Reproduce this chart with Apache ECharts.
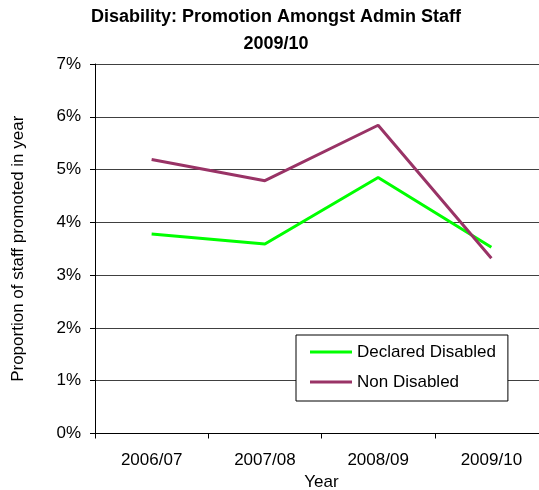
<!DOCTYPE html>
<html>
<head>
<meta charset="utf-8">
<script src="https://cdn.jsdelivr.net/npm/echarts@6/dist/echarts.min.js"></script>
<style>
  html, body { margin: 0; padding: 0; background: #fff; }
  #chart { width: 539px; height: 490px; }
</style>
</head>
<body>
<div id="chart"></div>
<script>
// Academic years on the category axis
const years = ['2006/07', '2007/08', '2008/09', '2009/10'];

// Share of admin staff promoted in each year (percent)
const declaredDisabled = [3.78, 3.59, 4.85, 3.53];
const nonDisabled = [5.19, 4.79, 5.84, 3.32];

const seriesNames = ['Declared Disabled', 'Non Disabled'];
const seriesColors = ['#00ff00', '#993366'];

const font = '"Liberation Sans", Arial, sans-serif';

const chart = echarts.init(document.getElementById('chart'), null, { renderer: 'canvas' });

chart.setOption({
  animation: false,
  backgroundColor: '#ffffff',
  title: {
    text: 'Disability: Promotion Amongst Admin Staff\n2009/10',
    left: 276,
    textAlign: 'center',
    top: 4,
    padding: 0,
    textStyle: {
      fontFamily: font,
      fontSize: 18,
      fontWeight: 'bold',
      color: '#000',
      lineHeight: 27
    }
  },
  grid: {
    left: 95,
    top: 64,
    width: 453,
    height: 369.5,
    containLabel: false,
    outerBoundsMode: 'none'
  },
  legend: {
    orient: 'vertical',
    left: 296,
    top: 335,
    padding: [8, 12, 10, 14],
    itemGap: 12,
    itemWidth: 42,
    itemHeight: 3,
    icon: 'rect',
    backgroundColor: '#ffffff',
    borderColor: '#000000',
    borderWidth: 1,
    borderRadius: 0,
    textStyle: {
      fontFamily: font,
      fontSize: 17,
      color: '#000',
      lineHeight: 18,
      padding: [0, 0, 0, 0]
    },
    data: seriesNames
  },
  xAxis: {
    type: 'category',
    data: years,
    boundaryGap: true,
    name: 'Year',
    nameLocation: 'middle',
    nameGap: 39,
    nameTextStyle: { fontFamily: font, fontSize: 17, color: '#000' },
    axisLine: { lineStyle: { color: '#000', width: 1 } },
    axisTick: { show: true, length: 5, inside: false, lineStyle: { color: '#000' } },
    axisLabel: { fontFamily: font, fontSize: 17, color: '#000', margin: 18 },
    splitLine: { show: false }
  },
  yAxis: {
    type: 'value',
    min: 0,
    max: 7,
    interval: 1,
    name: 'Proportion of staff promoted in year',
    nameLocation: 'middle',
    nameGap: 68,
    nameTextStyle: { fontFamily: font, fontSize: 17, color: '#000' },
    axisLine: { show: true, lineStyle: { color: '#000', width: 1 } },
    axisTick: { show: true, length: 5, inside: false, lineStyle: { color: '#000' } },
    axisLabel: {
      fontFamily: font,
      fontSize: 17,
      color: '#000',
      margin: 14,
      formatter: v => v + '%'
    },
    splitLine: { show: true, lineStyle: { color: '#404040', width: 1 } }
  },
  series: [
    {
      name: seriesNames[0],
      type: 'line',
      data: declaredDisabled,
      symbol: 'none',
      color: seriesColors[0],
      lineStyle: { width: 3, color: seriesColors[0] }
    },
    {
      name: seriesNames[1],
      type: 'line',
      data: nonDisabled,
      symbol: 'none',
      color: seriesColors[1],
      lineStyle: { width: 3, color: seriesColors[1] }
    }
  ]
});
</script>
</body>
</html>
